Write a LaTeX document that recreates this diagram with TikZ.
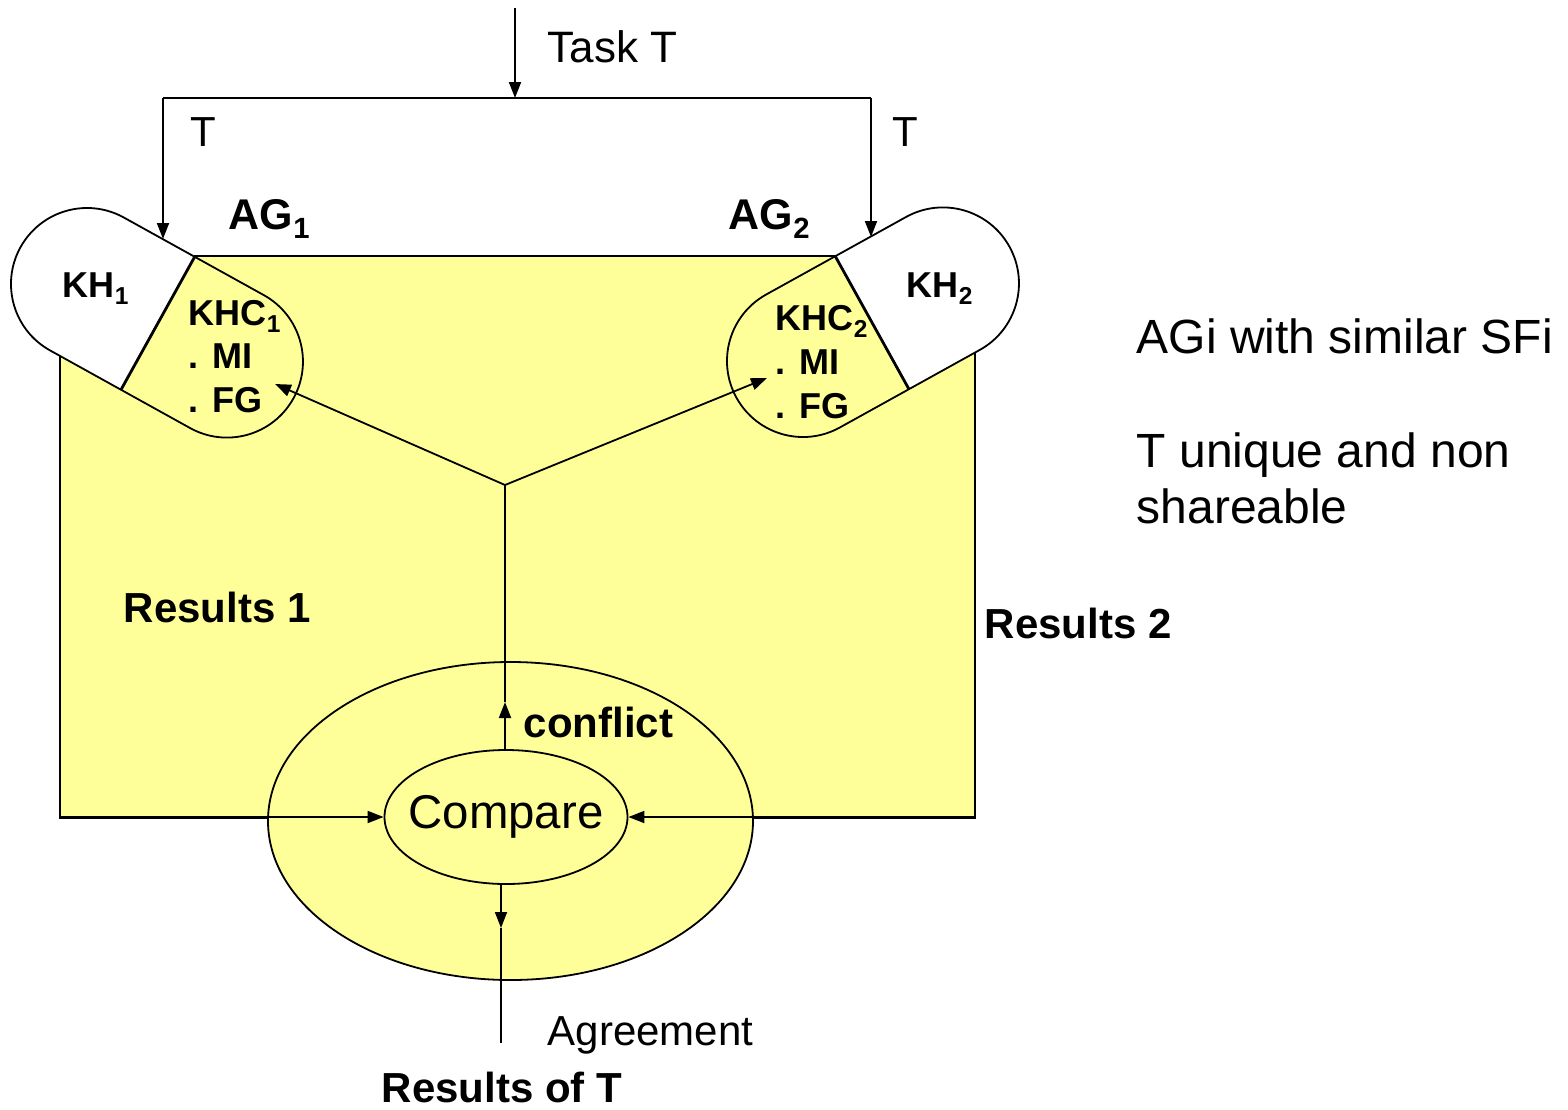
\documentclass[tikz,border=0pt]{standalone}
\usepackage{fontspec}
\setmainfont{Liberation Sans}
\usetikzlibrary{arrows.meta,shapes.geometric}
\definecolor{paleyellow}{HTML}{FFFF99}
% lowered, reduced index used in AG_i, KH_i, KHC_i
\newcommand\lowsub[1]{\raisebox{-0.22em}{\scalebox{0.68}{#1}}}

\begin{document}
\begin{tikzpicture}[x=0.5pt,y=-0.5pt,line width=0.9pt,
  tip/.style={-{Triangle[length=8pt,width=6pt]}},
  lbl/.style={inner sep=0pt,anchor=base west},
  plainlbl/.style={lbl,font=\fontsize{21}{25}\selectfont},
  notelbl/.style={lbl,font=\fontsize{24}{28}\selectfont},
  boldlbl/.style={lbl,font=\fontsize{21}{25}\selectfont\bfseries},
  aglbl/.style={lbl,font=\fontsize{21.5}{25}\selectfont\bfseries},
  khlbl/.style={lbl,font=\fontsize{18}{22}\selectfont\bfseries},
  capsule/.style={rounded corners=38pt},
  divider/.style={line width=1.4pt}
]
\useasboundingbox (0,0) rectangle (1568,1109);

% yellow agent area
\fill[paleyellow] (60,818) -- (60,300) -- (194,256) -- (836,256) -- (975,300) -- (975,818) -- cycle;
\draw (60,300) -- (60,818) -- (975,818) -- (975,300);
\draw (194,256) -- (836,256);

% left capsule: KH_1 | KHC_1
\begin{scope}[shift={(87,284)},rotate=-29]
  \fill[paleyellow,capsule] (-76,-76) rectangle (236,76);
  \begin{scope}
    \clip[capsule] (-76,-76) rectangle (236,76);
    \fill[white] (-80,-80) rectangle (81,80);
  \end{scope}
  \draw[capsule] (-76,-76) rectangle (236,76);
  \draw[divider] (81,-76) -- (81,76);
\end{scope}

% right capsule: KHC_2 | KH_2
\begin{scope}[shift={(803,361)},rotate=29]
  \fill[paleyellow,capsule] (-76,-76) rectangle (236,76);
  \begin{scope}
    \clip[capsule] (-76,-76) rectangle (236,76);
    \fill[white] (79,-80) rectangle (240,80);
  \end{scope}
  \draw[capsule] (-76,-76) rectangle (236,76);
  \draw[divider] (79,-76) -- (79,76);
\end{scope}

% comparison ellipses
\node[ellipse,draw,fill=paleyellow,minimum width=242.5pt,minimum height=159pt,inner sep=0pt]
  (outer) at (510.5,821) {};
\node[ellipse,draw,fill=paleyellow,minimum width=121.5pt,minimum height=67pt,inner sep=0pt]
  (cmp) at (506,817) {};
\node[inner sep=0pt,font=\fontsize{23.7}{28}\selectfont] (cmptxt) at (cmp.center) {Compare};

% task distribution
\coordinate (taskin) at (515,8);
\coordinate (split) at (515,98);
\coordinate (lc) at (163,98);
\coordinate (rc) at (871,98);
\coordinate (ltip) at (163,239);
\coordinate (rtip) at (871,237);
\draw[tip] (taskin) -- (split);
\draw (lc) -- (rc);
\draw[tip] (lc) -- (ltip);
\draw[tip] (rc) -- (rtip);

% results into the comparison
\coordinate (r1in) at (60,817);
\coordinate (r2in) at (975,817);
\draw[tip] (r1in) -- (cmp.west);
\draw[tip] (r2in) -- (cmp.east);

% conflict feedback
\coordinate (conf) at (505,702);
\coordinate (fork) at (505,485);
\coordinate (khc1tip) at (275,384);
\coordinate (khc2tip) at (767,378);
\draw[tip] (cmp.north -| conf) -- (conf);
\draw (conf) -- (fork);
\draw[tip] (fork) -- (khc1tip);
\draw[tip] (fork) -- (khc2tip);

% agreement output
\coordinate (agmid) at (501,928);
\coordinate (agend) at (501,1043);
\draw[tip] (cmp.south -| agend) -- (agmid);
\draw (agmid) -- (agend);

% labels
\node[lbl,font=\fontsize{22}{26}\selectfont] (tasklbl) at (547,62) {Task T};
\node[plainlbl] (t1lbl) at (190,146) {T};
\node[plainlbl] (t2lbl) at (892,146) {T};
\node[aglbl] (ag1) at (228,229) {AG\lowsub{1}};
\node[aglbl] (ag2) at (728,229) {AG\lowsub{2}};
\node[khlbl] (kh1) at (62,297) {KH\lowsub{1}};
\node[khlbl] (kh2) at (906,297) {KH\lowsub{2}};
\node[khlbl] (khc1a) at (188,325) {KHC\lowsub{1}};
\node[khlbl] (khc1b) at (188,368) {. MI};
\node[khlbl] (khc1c) at (188,412) {. FG};
\node[khlbl] (khc2a) at (775,330) {KHC\lowsub{2}};
\node[khlbl] (khc2b) at (775,374) {. MI};
\node[khlbl] (khc2c) at (775,418) {. FG};
\node[boldlbl] (res1) at (123,622) {Results 1};
\node[boldlbl] (res2) at (984,638) {Results 2};
\node[boldlbl] (conflbl) at (523,737) {conflict};
\node[plainlbl] (agrlbl) at (547,1045) {Agreement};
\node[boldlbl] (resT) at (381,1102) {Results of T};
\node[notelbl] (note1) at (1136,353) {AGi with similar SFi};
\node[notelbl] (note2) at (1136,467) {T unique and non};
\node[notelbl] (note3) at (1136,523) {shareable};
\end{tikzpicture}
\end{document}
